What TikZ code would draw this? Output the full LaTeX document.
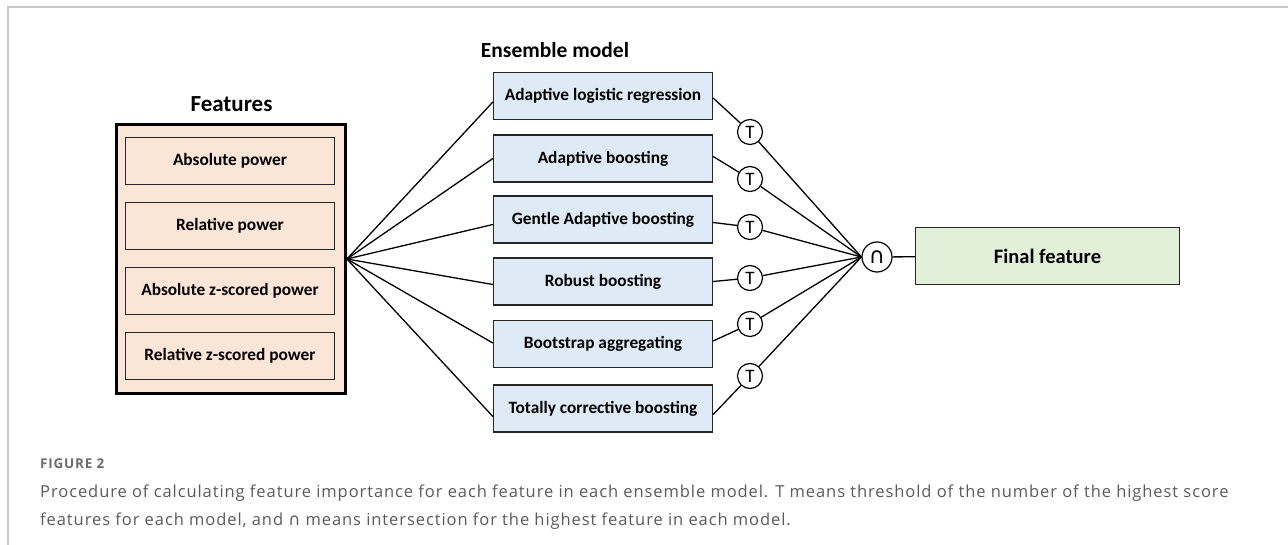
\documentclass[tikz,border=0pt]{standalone}
\usepackage{fontspec}
\setmainfont{Carlito}
\newfontfamily\capfont[LetterSpace=5.6]{Open Sans}
\newfontfamily\symfont{DejaVu Sans}
\definecolor{peach}{HTML}{FBE5D6}
\definecolor{ensblue}{HTML}{DEEBF7}
\definecolor{fingreen}{HTML}{E2F0D9}
\definecolor{framegray}{HTML}{C8C8C8}
\definecolor{capgray}{HTML}{5A5A5A}
\begin{document}
\begin{tikzpicture}[x=1pt,y=-1pt,
  boxfont/.style={font=\fontsize{17.3}{20}\selectfont\bfseries},
  outerbox/.style={draw, line width=2.8pt, fill=peach, minimum width=229pt, minimum height=269pt, inner sep=0pt},
  featbox/.style={draw=black!85, line width=1.3pt, fill=peach, minimum width=209pt, minimum height=47pt, inner sep=0pt, boxfont},
  ensbox/.style={draw=black!85, line width=1.3pt, fill=ensblue, minimum width=219pt, minimum height=47pt, inner sep=0pt, boxfont},
  finbox/.style={draw=black!85, line width=1.5pt, fill=fingreen, minimum width=264pt, minimum height=57pt, inner sep=0pt, font=\fontsize{20.5}{24}\selectfont\bfseries},
  tcirc/.style={circle, draw, line width=1.2pt, fill=white, minimum size=25pt, inner sep=0pt, font=\fontsize{19}{20}\selectfont},
  capcirc/.style={circle, draw, line width=1.2pt, fill=white, minimum size=30pt, inner sep=0pt, font=\symfont\fontsize{22}{22}\selectfont},
  title/.style={font=\fontsize{23}{26}\selectfont\bfseries},
  conn/.style={line width=1.3pt},
  captext/.style={anchor=base west, text=capgray, inner sep=0pt, font=\capfont\fontsize{16.5}{18}\selectfont}
]
\useasboundingbox (0,0) rectangle (1288,545);
\draw[framegray, line width=1.5pt] (8,545) -- (8,7) -- (1288,7);

% Features
\node[title] (ftitle) at (231.5,104) {Features};
\node[outerbox] (feat) at (231,259) {};
\node[featbox] (f1) at (230,161) {Absolute power};
\node[featbox] (f2) at (230,226) {Relative power};
\node[featbox] (f3) at (230,291) {Absolute z-scored power};
\node[featbox] (f4) at (230,356) {Relative z-scored power};

% Ensemble
\node[title, font=\fontsize{21.5}{24}\selectfont\bfseries] (etitle) at (555,50) {Ensemble model};
\node[ensbox] (e1) at (603,96) {Adaptive logistic regression};
\node[ensbox] (e2) at (603,158.5) {Adaptive boosting};
\node[ensbox] (e3) at (603,219.5) {Gentle Adaptive boosting};
\node[ensbox] (e4) at (603,281.5) {Robust boosting};
\node[ensbox] (e5) at (603,344) {Bootstrap aggregating};
\node[ensbox] (e6) at (603,408.5) {Totally corrective boosting};

% T circles
\node[tcirc] (t1) at (750,132) {T};
\node[tcirc] (t2) at (750,179) {T};
\node[tcirc] (t3) at (750,227) {T};
\node[tcirc] (t4) at (750,278) {T};
\node[tcirc] (t5) at (750,324) {T};
\node[tcirc] (t6) at (750,376) {T};

% intersection and final
\node[capcirc] (cap) at (877,257) {∩};
\node[finbox] (fin) at (1047.5,256) {Final feature};

% connectors
\draw[conn] (feat.east) -- ([yshift=-6pt]e1.west);
\draw[conn] (feat.east) -- (e2.west);
\draw[conn] (feat.east) -- ([yshift=-5pt]e3.west);
\draw[conn] (feat.east) -- ([yshift=-3pt]e4.west);
\draw[conn] (feat.east) -- ([yshift=1pt]e5.west);
\draw[conn] (feat.east) -- ([yshift=-8pt]e6.west);

\draw[conn] ([yshift=-2pt]e1.east) -- (t1);
\draw[conn] ([yshift=2pt]e2.east) -- (t2);
\draw[conn] ([yshift=-3pt]e3.east) -- (t3);
\draw[conn] (e4.east) -- (t4);
\draw[conn] ([yshift=3pt]e5.east) -- (t5);
\draw[conn] ([yshift=-6pt]e6.east) -- (t6);

\foreach \i in {1,...,6}{\draw[conn] (t\i) -- (cap.west);}
\draw[conn] (cap) -- (fin);

% caption
\node[captext, font=\capfont\fontsize{13.5}{16}\selectfont\bfseries, text=capgray!90] (fig) at (40,468) {FIGURE 2};
\node[captext] (c1) at (40,497) {Procedure of calculating feature importance for each feature in each ensemble model. T means threshold of the number of the highest score};
\node[captext] (c2) at (40,525) {features for each model, and {\symfont ∩} means intersection for the highest feature in each model.};
\end{tikzpicture}
\end{document}
